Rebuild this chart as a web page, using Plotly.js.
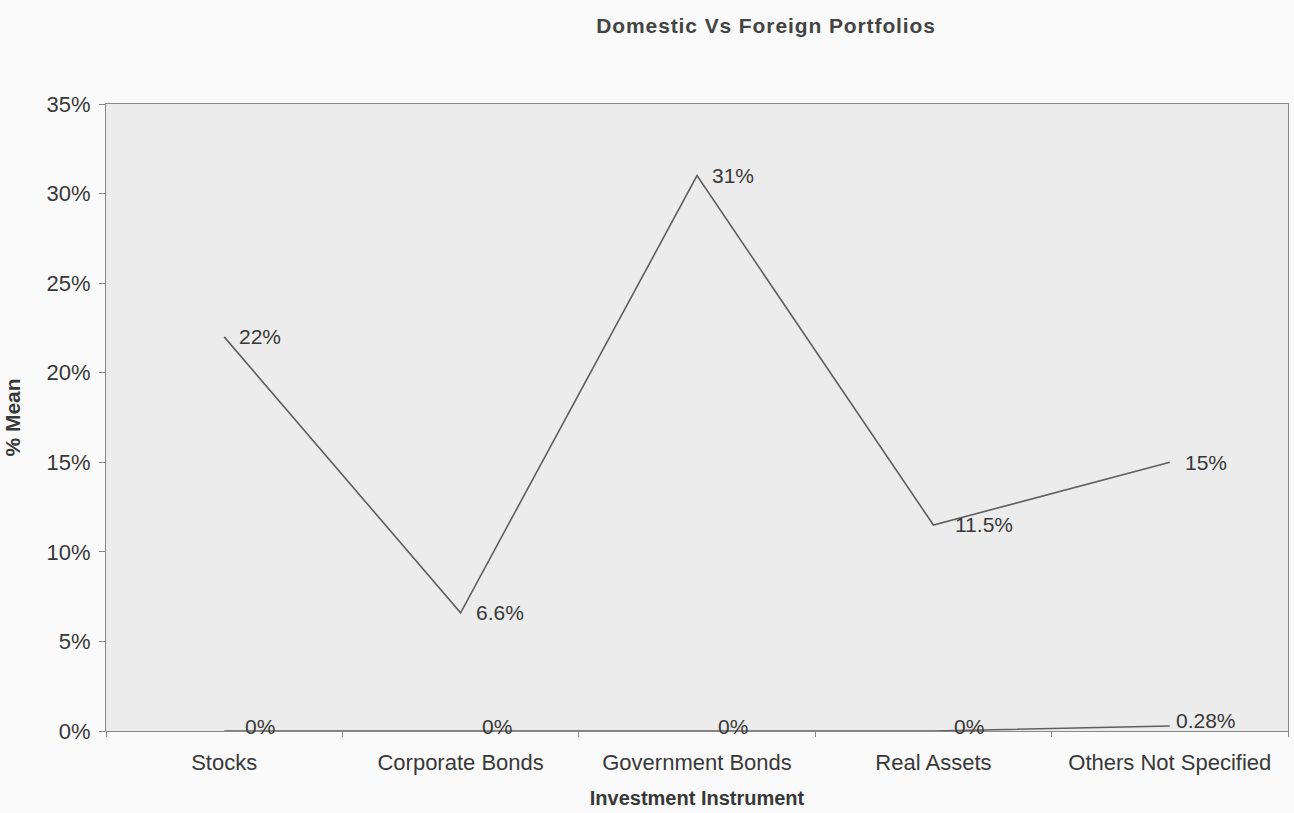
<!DOCTYPE html>
<html><head><meta charset="utf-8">
<script src="https://cdn.plot.ly/plotly-3.0.1.min.js"></script>
<style>body{margin:0;background:#fafafa}#chart{width:1294px;height:813px}
.gtitle{letter-spacing:0.9px}</style>
</head><body><div id="chart"></div>
<script>
const categories = ["Stocks", "Corporate Bonds", "Government Bonds", "Real Assets", "Others Not Specified"];
const domestic = [22, 6.6, 31, 11.5, 15];
const domesticLabels = ["22%", "6.6%", "31%", "11.5%", "15%"];
const foreign = [0, 0, 0, 0, 0.28];
const foreignLabels = ["0%", "0%", "0%", "0%", "0.28%"];
const yTicks = [0, 5, 10, 15, 20, 25, 30, 35];

const fam = "Liberation Sans, Arial, sans-serif";
const txt = "#383838";

const traces = [
  {x: categories, y: domestic, type: "scatter", mode: "lines",
   line: {color: "#5f5f5f", width: 1.6}, cliponaxis: false, hoverinfo: "skip"},
  {x: categories, y: foreign, type: "scatter", mode: "lines",
   line: {color: "#5f5f5f", width: 1.6}, cliponaxis: false, hoverinfo: "skip"}
];

const annotations = [];
categories.forEach((c, i) => {
  annotations.push({x: c, y: domestic[i], xref: "x", yref: "y", text: domesticLabels[i], showarrow: false,
    xanchor: "left", yanchor: "middle", xshift: i === 3 ? 20 : 13, yshift: 0,
    font: {family: fam, size: 21, color: txt}});
  annotations.push({x: c, y: foreign[i], xref: "x", yref: "y", text: foreignLabels[i], showarrow: false,
    xanchor: "center", yanchor: "middle", xshift: 36, yshift: 5,
    font: {family: fam, size: 21, color: txt}});
});

const layout = {
  width: 1294, height: 813,
  paper_bgcolor: "#fafafa", plot_bgcolor: "#ececec",
  margin: {l: 106, r: 6, t: 104, b: 82},
  showlegend: false,
  font: {family: fam, color: txt},
  title: {text: "<b>Domestic Vs Foreign Portfolios</b>", x: 0.592, xanchor: "center", y: 0.969, yanchor: "middle",
          font: {family: fam, size: 21, color: "#444"}},
  xaxis: {type: "category", range: [-0.5, 4.5], showgrid: false, showline: true, linecolor: "#888", linewidth: 1, mirror: true,
          ticks: "outside", tickson: "boundaries", ticklen: 5, tickcolor: "#888", ticklabelstandoff: 12,
          tickfont: {size: 22, family: fam, color: txt},
          title: {text: "<b>Investment Instrument</b>", font: {size: 20, family: fam, color: txt}, standoff: 16}},
  yaxis: {range: [0, 35], tickvals: yTicks, ticktext: yTicks.map(v => v + "%"), showgrid: false, zeroline: false,
          showline: true, linecolor: "#888", linewidth: 1, mirror: true, ticks: "outside", ticklen: 6, tickcolor: "#888",
          ticklabelstandoff: 4,
          tickfont: {size: 22, family: fam, color: txt},
          title: {text: "<b>% Mean</b>", font: {size: 21, family: fam, color: txt}, standoff: 20}},
  annotations: annotations
};
Plotly.newPlot("chart", traces, layout, {staticPlot: true});
</script></body></html>
